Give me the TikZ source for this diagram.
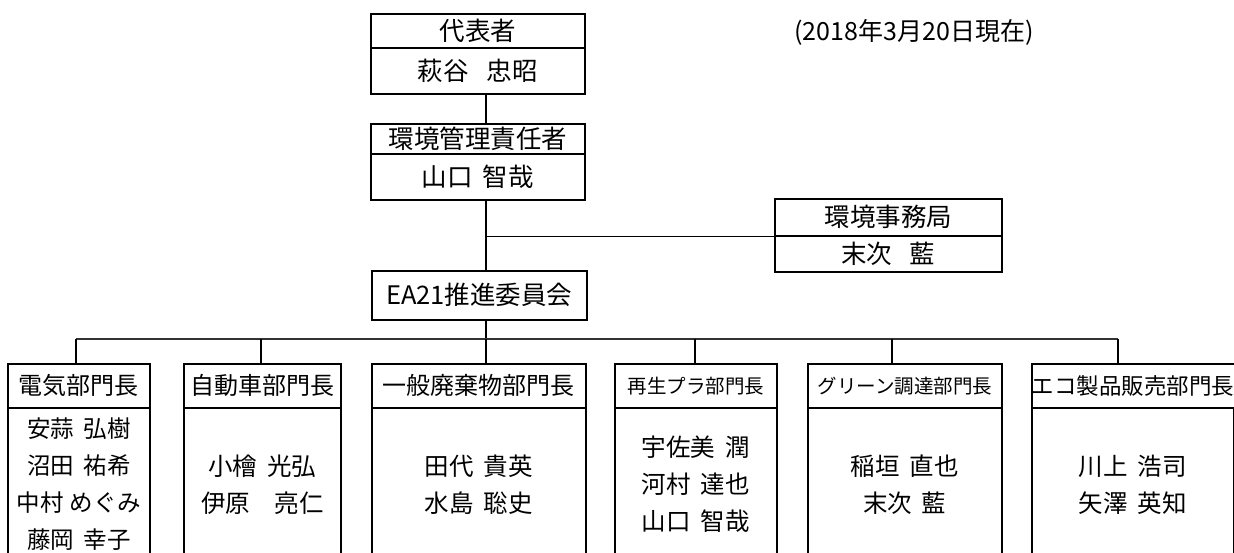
\documentclass[tikz,border=0pt]{standalone}
\usepackage{fontspec}
\setmainfont{Noto Sans CJK JP}
\usetikzlibrary{calc}
\newcommand{\gap}{\hspace{0.4em}}
\newcommand{\wgap}{\hspace{0.7em}}
\begin{document}
\begin{tikzpicture}[x=1pt,y=-1pt,
  box/.style={draw,line width=1.6pt,rectangle,inner sep=0pt,anchor=north west,align=center},
  conn/.style={line width=1.5pt},
  bus/.style={line width=1.3pt,draw=black!80},
  big/.style={font=\fontsize{25.5}{30}\selectfont},
  head/.style={font=\fontsize{24}{28}\selectfont},
  med/.style={font=\fontsize{22.5}{26}\selectfont},
  small/.style={font=\fontsize{19.5}{24}\selectfont},
  names/.style={font=\fontsize{24.5}{37}\selectfont}]
\useasboundingbox (0,0) rectangle (1234,552);
\clip (0,0) rectangle (1234,552);
% top
\node[box,big,minimum width=214pt,minimum height=34pt] (rep-h) at (370,13) {代表者};
\node[box,big,minimum width=214pt,minimum height=46pt] (rep-b) at (370,47) {萩谷\wgap 忠昭};
\node[box,big,minimum width=214pt,minimum height=30pt] (env-h) at (370,123) {環境管理責任者};
\node[box,big,minimum width=214pt,minimum height=46pt] (env-b) at (370,153) {山口\gap 智哉};
\node[box,big,minimum width=227pt,minimum height=37pt] (off-h) at (774,198) {環境事務局};
\node[box,big,minimum width=227pt,minimum height=36pt] (off-b) at (774,235) {末次\wgap 藍};
\node[box,big,minimum width=215pt,minimum height=49pt] (ea) at (371,270) {EA21推進委員会};
\node[font=\fontsize{25}{30}\selectfont,anchor=center] (date) at (914,32) {(2018年3月20日現在)};
% departments
\node[box,head,minimum width=142pt,minimum height=44pt] (d1-h) at (7,363) {電気部門長};
\node[box,names,font=\fontsize{23.5}{37}\selectfont,minimum width=142pt,minimum height=153pt] (d1-b) at (7,407) {安蒜\gap 弘樹\\沼田\gap 祐希\\中村\hspace{0.25em}めぐみ\\藤岡\gap 幸子};
\node[box,head,minimum width=157pt,minimum height=44pt] (d2-h) at (183,363) {自動車部門長};
\node[box,names,minimum width=157pt,minimum height=153pt] (d2-b) at (183,407) {小檜\gap 光弘\\伊原　亮仁};
\node[box,head,minimum width=214pt,minimum height=44pt] (d3-h) at (371,363) {一般廃棄物部門長};
\node[box,names,minimum width=214pt,minimum height=153pt] (d3-b) at (371,407) {田代\gap 貴英\\水島\gap 聡史};
\node[box,small,minimum width=162pt,minimum height=44pt] (d4-h) at (614,363) {再生プラ部門長};
\node[box,names,minimum width=162pt,minimum height=153pt] (d4-b) at (614,407) {宇佐美\gap 潤\\河村\gap 達也\\山口\gap 智哉};
\node[box,small,minimum width=194pt,minimum height=44pt] (d5-h) at (807,363) {グリーン調達部門長};
\node[box,names,minimum width=194pt,minimum height=153pt] (d5-b) at (807,407) {稲垣\gap 直也\\末次\gap 藍};
\node[box,med,minimum width=202pt,minimum height=44pt] (d6-h) at (1031,363) {エコ製品販売部門長};
\node[box,names,minimum width=202pt,minimum height=153pt] (d6-b) at (1031,407) {川上\gap 浩司\\矢澤\gap 英知};
% connectors
\coordinate (spine) at (486,0);
\coordinate (busy) at (0,339);
\draw[conn] (rep-b.south -| spine) -- (env-h.north -| spine);
\draw[conn] (env-b.south -| spine) -- (ea.north -| spine);
\draw[conn] (off-h.south west -| spine) -- (off-h.south west);
\draw[conn] (ea.south -| spine) -- (busy -| spine);
\coordinate (c1) at (76,339);
\coordinate (c2) at (261,339);
\coordinate (c3) at (486,339);
\coordinate (c4) at (695,339);
\coordinate (c5) at (892,339);
\coordinate (c6) at (1118,339);
\draw[bus] (c1) -- (c6);
\draw[conn] (c1) -- (c1 |- d1-h.north);
\draw[conn] (c2) -- (c2 |- d2-h.north);
\draw[conn] (c3) -- (c3 |- d3-h.north);
\draw[conn] (c4) -- (c4 |- d4-h.north);
\draw[conn] (c5) -- (c5 |- d5-h.north);
\draw[conn] (c6) -- (c6 |- d6-h.north);
\end{tikzpicture}
\end{document}
